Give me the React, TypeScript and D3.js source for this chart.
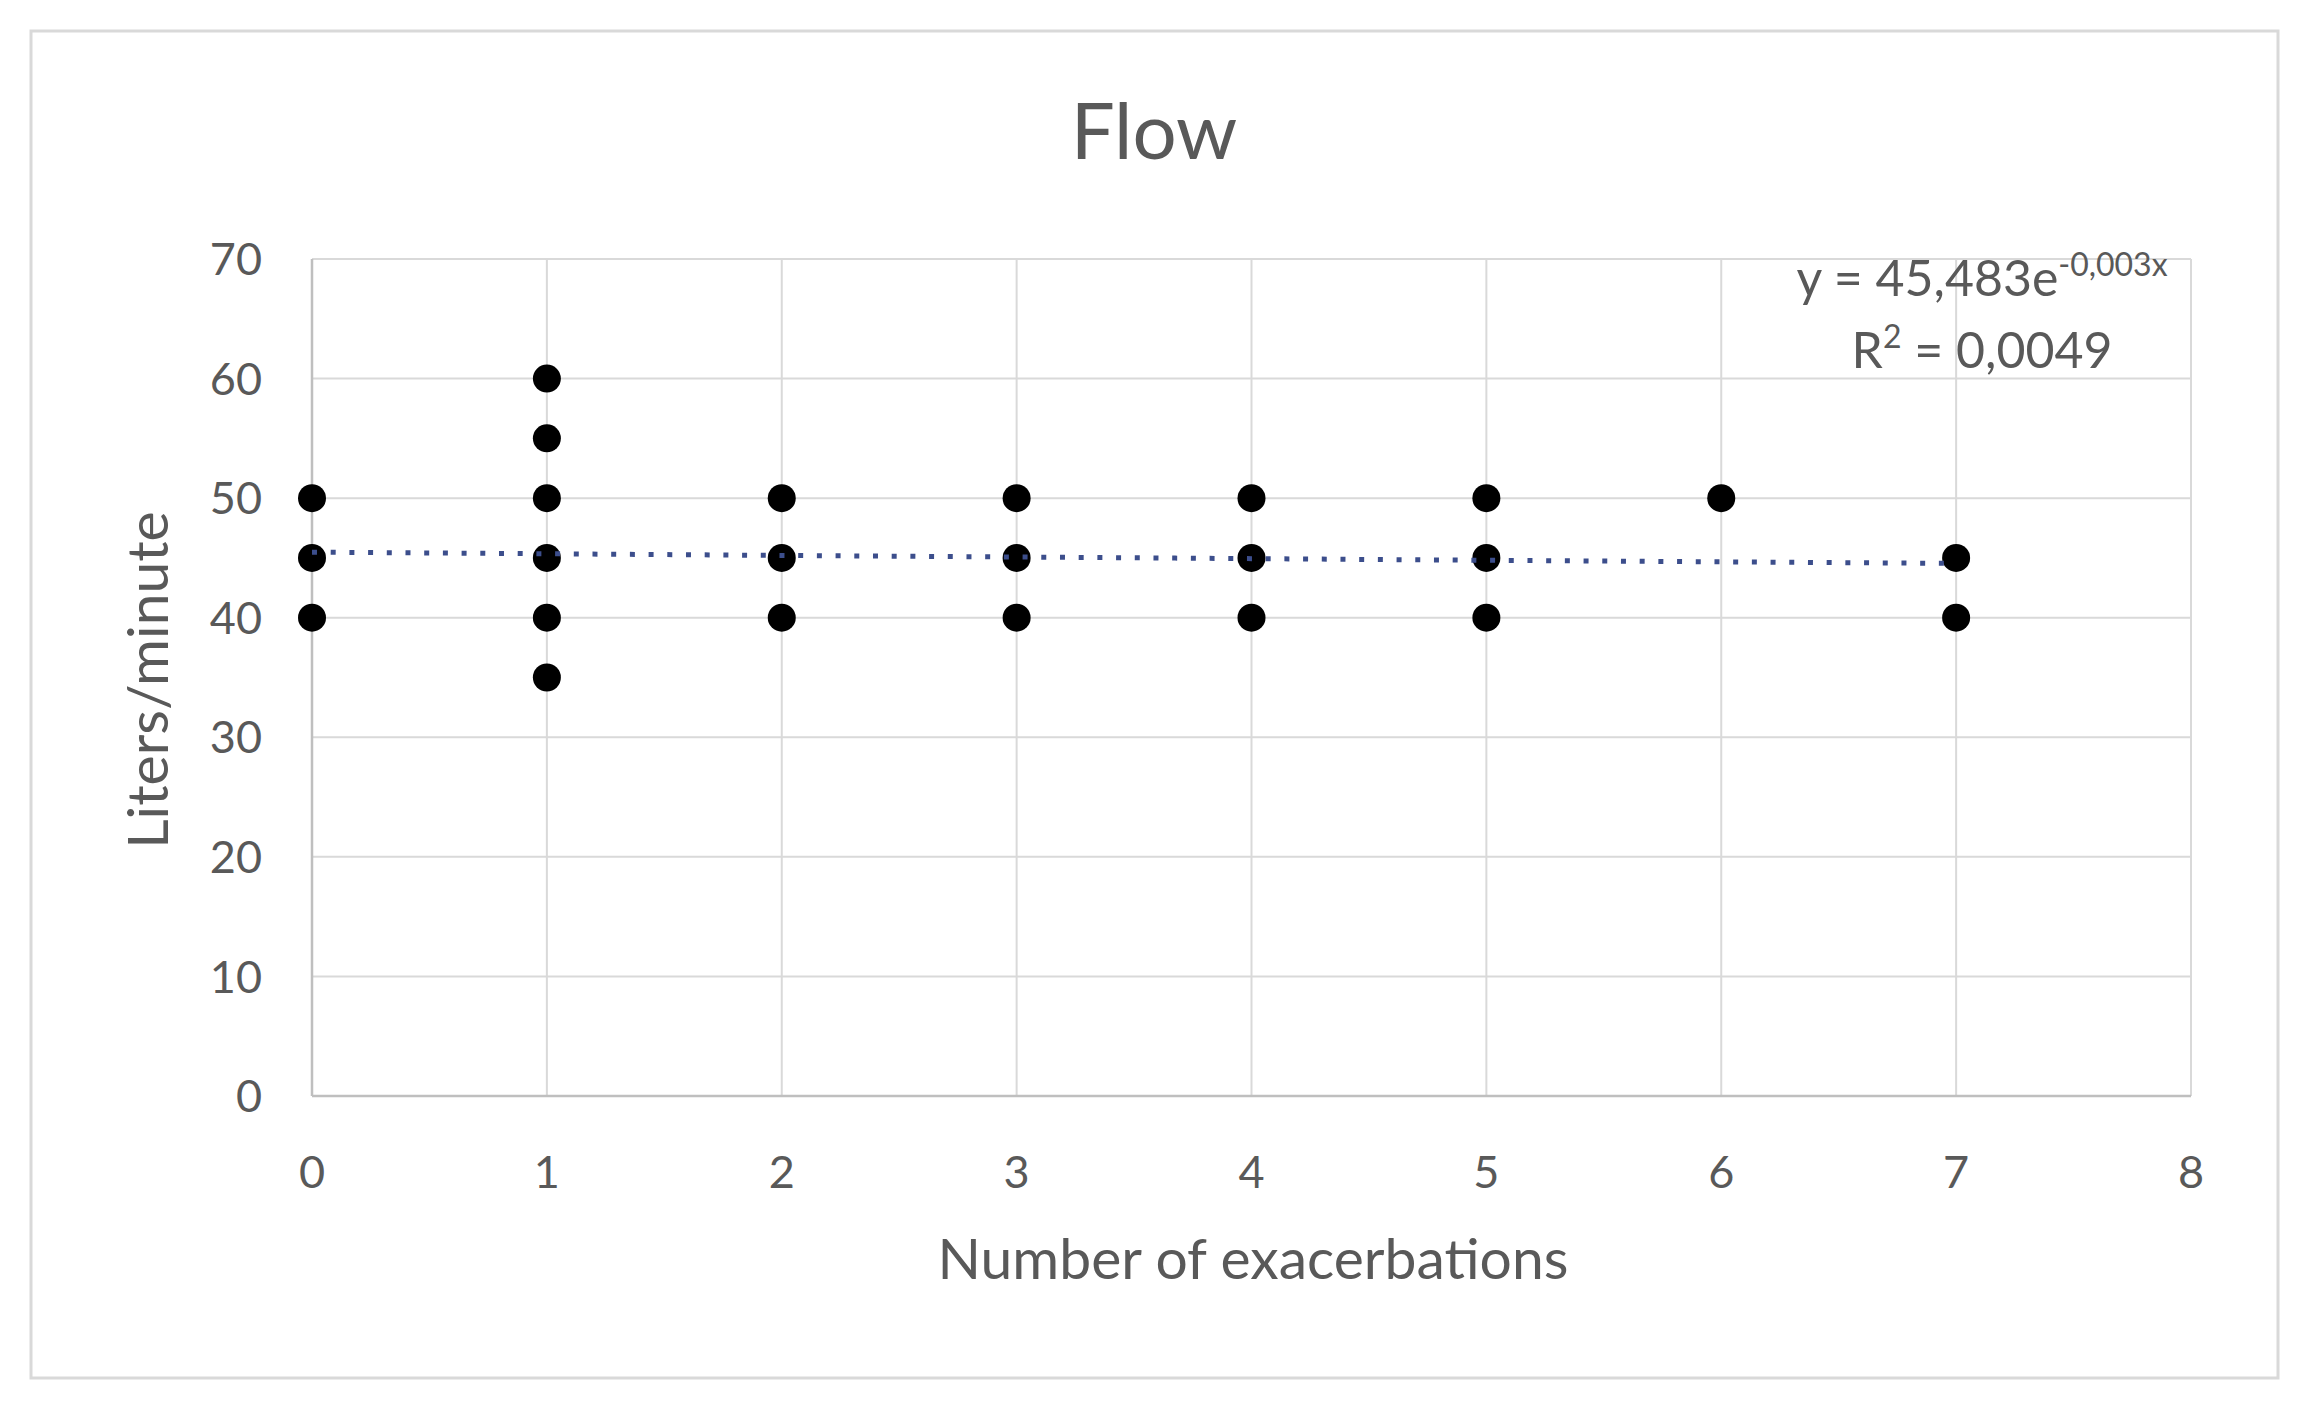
import React from "react";
import * as d3 from "d3";

// exacerbation counts and measured flow (L/min), one entry per patient
const exacerbations = [0, 0, 0, 1, 1, 1, 1, 1, 1, 2, 2, 2, 3, 3, 3, 4, 4, 4, 5, 5, 5, 6, 7, 7];
const flow = [50, 45, 40, 60, 55, 50, 45, 40, 35, 50, 45, 40, 50, 45, 40, 50, 45, 40, 50, 45, 40, 50, 45, 40];

const xTicks = [0, 1, 2, 3, 4, 5, 6, 7, 8];
const yTicks = [0, 10, 20, 30, 40, 50, 60, 70];

// exponential trendline as reported by the chart
const trendA = 45.483;
const trendB = -0.003;
const trendRange = [0, 7];

const W = 2307;
const H = 1412;
const font = "Lato, 'Open Sans', sans-serif";
const textColor = "#595959";

const App = () => {
  const margin = {top: 259, right: W - 2191, bottom: H - 1096, left: 312};

  const xScale = d3.scaleLinear()
    .domain([0, 8])
    .range([margin.left, W - margin.right]);

  const yScale = d3.scaleLinear()
    .domain([0, 70])
    .range([H - margin.bottom, margin.top]);

  const trendXs = d3.range(0, 41).map(i => trendRange[0] + (trendRange[1] - trendRange[0]) * i / 40);
  const trendLine = d3.line<number>()
    .x(d => xScale(d))
    .y(d => yScale(trendA * Math.exp(trendB * d)));

  const points = exacerbations.map((x, i) => ({x, y: flow[i]}));

  return (
    <div>
      <style>{`body{margin:0}`}</style>
      <svg width={W} height={H} style={{display: "block", background: "#fff"}}>
        <rect x={31} y={31} width={2278 - 31} height={1378 - 31} fill="#fff" stroke="#d9d9d9" strokeWidth={3} />

        <text x={1154} y={159} textAnchor="middle" fontFamily={font} fontSize={78} fill={textColor}>Flow</text>

        {/* gridlines */}
        {yTicks.filter(t => t > 0).map(t => (
          <line key={"gy" + t} x1={xScale(0)} x2={xScale(8)} y1={yScale(t)} y2={yScale(t)} stroke="#d9d9d9" strokeWidth={2} />
        ))}
        {xTicks.filter(t => t > 0).map(t => (
          <line key={"gx" + t} x1={xScale(t)} x2={xScale(t)} y1={yScale(0)} y2={yScale(70)} stroke="#d9d9d9" strokeWidth={2} />
        ))}
        {/* axis lines */}
        <line x1={xScale(0)} x2={xScale(0)} y1={yScale(0)} y2={yScale(70)} stroke="#bfbfbf" strokeWidth={2.5} />
        <line x1={xScale(0)} x2={xScale(8)} y1={yScale(0)} y2={yScale(0)} stroke="#bfbfbf" strokeWidth={2.5} />

        {/* tick labels */}
        {yTicks.map(t => (
          <text key={"ly" + t} x={262} y={yScale(t)} dy="0.36em" textAnchor="end" fontFamily={font} fontSize={45} fill={textColor}>{t}</text>
        ))}
        {xTicks.map(t => (
          <text key={"lx" + t} x={xScale(t)} y={1188} textAnchor="middle" fontFamily={font} fontSize={45} fill={textColor}>{t}</text>
        ))}

        {/* axis titles */}
        <text x={1253} y={1279} textAnchor="middle" fontFamily={font} fontSize={57} fill={textColor}>Number of exacerbations</text>
        <text transform={`translate(168, ${680}) rotate(-90)`} textAnchor="middle" fontFamily={font} fontSize={57} fill={textColor}>Liters/minute</text>

        {/* points */}
        {points.map((p, i) => (
          <circle key={i} cx={xScale(p.x)} cy={yScale(p.y)} r={14} fill="#000" />
        ))}

        {/* trendline */}
        <path d={trendLine(trendXs) || ""} fill="none" stroke="#3c4e8c" strokeWidth={5} strokeDasharray="5 13.7" />

        {/* equation */}
        <text x={1982} y={296} textAnchor="middle" fontFamily={font} fontSize={50} fill={textColor}>
          y = 45,483e<tspan fontSize={32} dy={-20}>-0,003x</tspan>
        </text>
        <text x={1982} y={368} textAnchor="middle" fontFamily={font} fontSize={50} fill={textColor}>
          R<tspan fontSize={32} dy={-20}>2</tspan><tspan dy={20}> = 0,0049</tspan>
        </text>
      </svg>
    </div>
  );
};

export default App;
